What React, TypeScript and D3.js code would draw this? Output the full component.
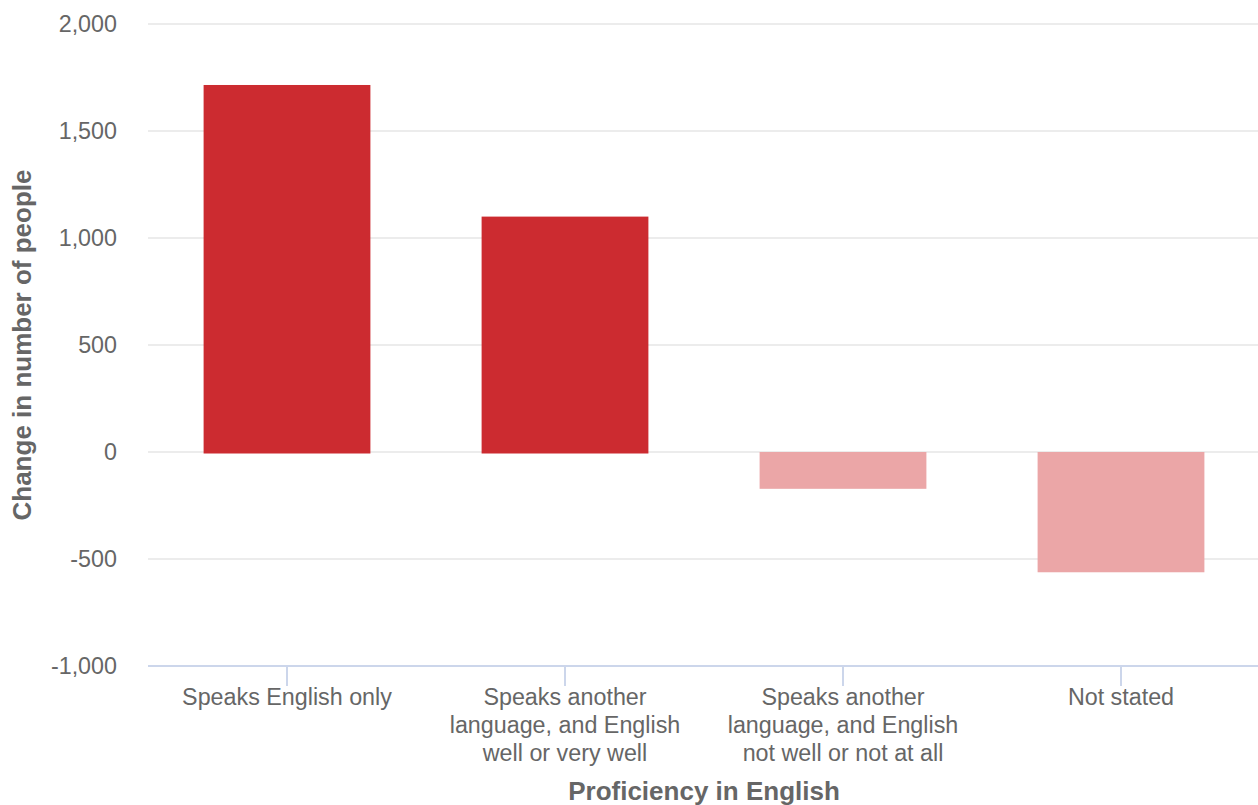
import React from "react";
import * as d3 from "d3";

const categories: string[][] = [
  ["Speaks English only"],
  ["Speaks another", "language, and English", "well or very well"],
  ["Speaks another", "language, and English", "not well or not at all"],
  ["Not stated"],
];
const values: number[] = [1715, 1100, -165, -555];
const yTicks: number[] = [-1000, -500, 0, 500, 1000, 1500, 2000];

const W = 1258;
const H = 805;
const left = 148;
const right = 1260;
const top = 24;
const bottom = 666;

export default function App() {
  const x = d3
    .scaleBand<number>()
    .domain(values.map((_, i) => i))
    .range([left, right])
    .paddingInner(0.4)
    .paddingOuter(0.2);
  const y = d3.scaleLinear().domain([-1000, 2000]).range([bottom, top]);
  const fmt = d3.format(",");
  const font = "'Liberation Sans', Arial, sans-serif";
  const step = x.step();
  return (
    <svg
      width={W}
      height={H}
      style={{ position: "absolute", left: 0, top: 0, fontFamily: font }}
    >
      <rect width={W} height={H} fill="#fff" />
      {yTicks.map((t) => (
        <g key={t}>
          {t !== -1000 && (
            <line x1={left} x2={W} y1={y(t)} y2={y(t)} stroke="#e6e6e6" strokeWidth={1.5} />
          )}
          <text
            x={117}
            y={y(t)}
            dy="0.35em"
            textAnchor="end"
            fontSize={23.3}
            fill="#666"
          >
            {fmt(t).replace("−", "-")}
          </text>
        </g>
      ))}
      {values.map((v, i) => (
        <rect
          key={i}
          x={x(i)}
          width={x.bandwidth()}
          y={y(Math.max(0, v))}
          height={Math.abs(y(v) - y(0)) + 1.5}
          fill={v >= 0 ? "#cc2b30" : "#eba6a7"}
        />
      ))}
      <line x1={left} x2={W} y1={bottom} y2={bottom} stroke="#ccd6eb" strokeWidth={2} />
      {values.map((_, i) => {
        const cx = left + step * i + step / 2;
        return (
          <g key={i}>
            <line x1={cx} x2={cx} y1={bottom} y2={bottom + 20} stroke="#ccd6eb" strokeWidth={2} />
            {categories[i].map((line, j) => (
              <text
                key={j}
                x={cx}
                y={697 + j * 28}
                dy="0.35em"
                textAnchor="middle"
                fontSize={23.3}
                fill="#666"
              >
                {line}
              </text>
            ))}
          </g>
        );
      })}
      <text
        x={704}
        y={791}
        dy="0.35em"
        textAnchor="middle"
        fontSize={26}
        fontWeight="bold"
        fill="#666"
      >
        Proficiency in English
      </text>
      <text
        transform={`translate(22, ${(top + bottom) / 2}) rotate(-90)`}
        dy="0.35em"
        textAnchor="middle"
        fontSize={26}
        fontWeight="bold"
        fill="#666"
      >
        Change in number of people
      </text>
    </svg>
  );
}
